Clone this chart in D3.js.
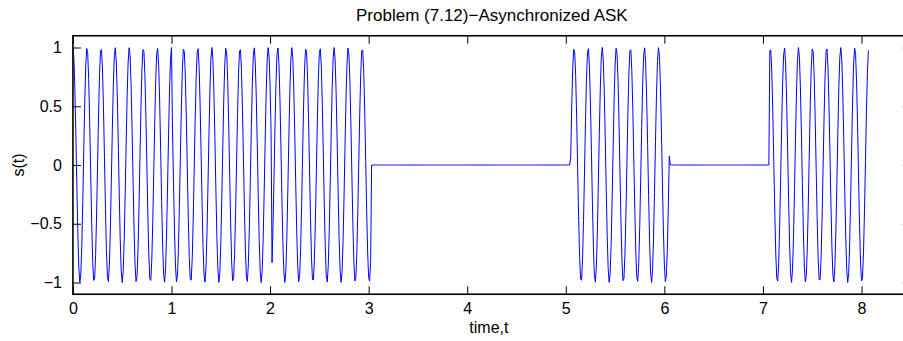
<!DOCTYPE html>
<html>

<head>
    <title>Asynchronized ASK</title>
    <meta charset="utf-8">
    <style>
        body { margin: 0; background: #fff; }
        text { font-family: "Liberation Sans", Arial, sans-serif; }
    </style>
</head>
<script src="https://cdn.jsdelivr.net/npm/d3@7"></script>

<body>
    <div id="chart"></div>
    <script>
        // bits of the ASK signal, one second-ish slot each (101 samples, dt = 0.01)
        const bitStarts = [0, 1.01, 2.02, 3.03, 4.04, 5.05, 6.06, 7.07];
        const bitValues = [1, 1, 1, 0, 0, 1, 0, 1];
        // time of the first carrier peak in each "on" bit (phase is not synchronized)
        const peakTimes = [0, 1.124, 2.078, null, null, 5.084, null, 7.075];
        const carrierFreq = 7;
        const samplesPerBit = 101;
        const sampleStep = 0.01;

        const xTicks = [0, 1, 2, 3, 4, 5, 6, 7, 8];
        const yTicks = [-1, -0.5, 0, 0.5, 1];
        const yTickLabels = ["\u22121", "\u22120.5", "0", "0.5", "1"];

        const W = 903, H = 341;
        const box = { left: 72.93, right: 910.8, top: 35.75, bottom: 294.25 };
        const fontSize = "16px";

        const svg = d3.select("#chart").append("svg")
            .attr("width", W)
            .attr("height", H);

        const x = d3.scaleLinear().domain([0, 8.5]).range([box.left, box.right]);
        const y = d3.scaleLinear().domain([-1.1, 1.1]).range([box.bottom, box.top]);

        // build samples
        let signal = [];
        bitStarts.forEach(function (t0, i) {
            for (let n = 0; n < samplesPerBit; n++) {
                const t = t0 + n * sampleStep;
                let v = 0;
                if (bitValues[i] === 1) {
                    v = Math.cos(2 * Math.PI * carrierFreq * (t - peakTimes[i]));
                }
                signal.push({ t: t, v: v });
            }
        });

        // clip to axes box
        svg.append("clipPath").attr("id", "box")
            .append("rect")
            .attr("x", box.left).attr("y", box.top)
            .attr("width", box.right - box.left).attr("height", box.bottom - box.top);

        const line = d3.line()
            .x(d => x(d.t))
            .y(d => y(d.v));

        svg.append("path")
            .datum(signal)
            .attr("clip-path", "url(#box)")
            .attr("fill", "none")
            .attr("stroke", "#0000ff")
            .attr("stroke-width", 1)
            .attr("d", line);

        // axes, ticks pointing inwards like matlab
        const tickLen = 8;
        const axisStyle = function (sel) {
            sel.selectAll(".domain").remove();
            sel.selectAll(".tick line").attr("stroke", "#000").attr("stroke-width", 1);
            sel.selectAll("text")
                .style("font-size", fontSize)
                .attr("fill", "#000");
        };

        svg.append("g")
            .attr("transform", "translate(0," + box.bottom + ")")
            .call(d3.axisBottom(x).tickValues(xTicks).tickSize(-tickLen).tickPadding(8).tickFormat(d3.format("d")))
            .call(axisStyle);

        svg.append("g")
            .attr("transform", "translate(0," + box.top + ")")
            .call(d3.axisTop(x).tickValues(xTicks).tickSize(-tickLen).tickFormat(""))
            .call(axisStyle);

        svg.append("g")
            .attr("transform", "translate(" + box.left + ",0)")
            .call(d3.axisLeft(y).tickValues(yTicks).tickSize(-tickLen).tickPadding(11)
                .tickFormat((d, i) => yTickLabels[i]))
            .call(axisStyle);

        svg.append("g")
            .attr("transform", "translate(" + box.right + ",0)")
            .call(d3.axisRight(y).tickValues(yTicks).tickSize(-tickLen).tickFormat(""))
            .call(axisStyle);

        // box
        svg.append("rect")
            .attr("x", box.left).attr("y", box.top)
            .attr("width", box.right - box.left).attr("height", box.bottom - box.top)
            .attr("fill", "none")
            .attr("stroke", "#000")
            .attr("stroke-width", 1.6);

        // Title
        svg.append("text")
            .attr("text-anchor", "middle")
            .attr("x", (box.left + box.right) / 2)
            .attr("y", 21)
            .style("font-size", "17px")
            .text("Problem (7.12)\u2212Asynchronized ASK");

        // x label
        svg.append("text")
            .attr("text-anchor", "middle")
            .attr("x", (box.left + box.right) / 2 - 3)
            .attr("y", 333)
            .style("font-size", fontSize)
            .text("time,t");

        // y label
        svg.append("text")
            .attr("text-anchor", "middle")
            .attr("transform", "translate(24," + y(0) + ")rotate(-90)")
            .style("font-size", fontSize)
            .text("s(t)");
    </script>
</body>

</html>
